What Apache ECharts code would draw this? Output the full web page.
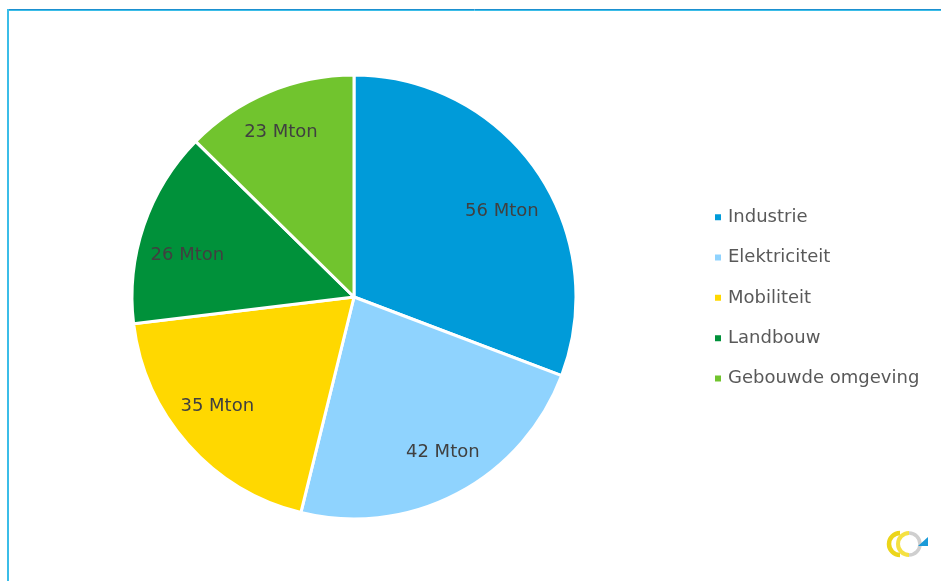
<!DOCTYPE html>
<html>
<head>
<meta charset="utf-8">
<script src="https://cdn.jsdelivr.net/npm/echarts@6/dist/echarts.min.js"></script>
<style>html,body{margin:0;padding:0;background:#fff}#c{width:941px;height:581px}</style>
</head>
<body>
<div id="c"></div>
<script>
var categories = ['Industrie', 'Elektriciteit', 'Mobiliteit', 'Landbouw', 'Gebouwde omgeving'];
var values = [56, 42, 35, 26, 23];
var unit = 'Mton';
var colors = ['#009bd9', '#8fd3fe', '#ffd800', '#00913a', '#71c42e'];

// small label nudges (style only) to match the reference label placement
var labelNudge = [[3, 14], [7, -1], [-5, -7], [0, 15], [-5, -2]];

var data = categories.map(function (c, i) { return { name: c, value: values[i] }; });
var labelData = categories.map(function (c, i) {
  return { name: c, value: values[i], label: { offset: labelNudge[i] } };
});
var chart = echarts.init(document.getElementById('c'), null, { renderer: 'canvas' });
var font = '"DejaVu Sans", Verdana, sans-serif';
chart.setOption({
  animation: false,
  color: colors,
  legend: {
    orient: 'vertical',
    left: 708,
    top: 202,
    itemWidth: 8,
    itemHeight: 8,
    itemGap: 19.8,
    icon: 'rect',
    data: categories,
    textStyle: { fontFamily: font, fontSize: 18, color: '#595959', lineHeight: 20.5, padding: [0, 0, 0, 1] }
  },
  graphic: [
    { type: 'line', shape: { x1: 8, y1: 9.5, x2: 941, y2: 9.5 }, style: { stroke: '#1b90d0', lineWidth: 1 }, silent: true },
    { type: 'line', shape: { x1: 8, y1: 10.5, x2: 941, y2: 10.5 }, style: { stroke: '#3bbde8', lineWidth: 1 }, silent: true },
    { type: 'line', shape: { x1: 8, y1: 9, x2: 8, y2: 581 }, style: { stroke: '#3bbde8', lineWidth: 2 }, silent: true },
    { type: 'arc', shape: { cx: 909, cy: 544, r: 11, startAngle: -Math.PI * 0.5, endAngle: Math.PI * 0.5 }, style: { fill: 'none', stroke: '#cfcfcf', lineWidth: 3.5 }, silent: true },
    { type: 'arc', shape: { cx: 900, cy: 544, r: 11, startAngle: Math.PI * 0.5, endAngle: Math.PI * 1.5 }, style: { fill: 'none', stroke: '#ecd51a', lineWidth: 4.5 }, silent: true },
    { type: 'arc', shape: { cx: 909, cy: 544, r: 11, startAngle: Math.PI * 0.5, endAngle: Math.PI * 1.5 }, style: { fill: 'none', stroke: '#f5e143', lineWidth: 4 }, silent: true },
    { type: 'polygon', shape: { points: [[918, 546], [928, 537], [928, 546]] }, style: { fill: '#1a9ad8' }, silent: true }
  ],
  series: [
    {
      type: 'pie',
      center: [354, 297],
      radius: [0, 222],
      startAngle: 90,
      clockwise: true,
      data: data,
      label: { show: false },
      labelLine: { show: false },
      itemStyle: { borderColor: '#ffffff', borderWidth: 3 },
      emphasis: { disabled: true }
    },
    {
      type: 'pie',
      center: [354, 297],
      radius: [124, 222],
      startAngle: 90,
      clockwise: true,
      silent: true,
      legendHoverLink: false,
      data: labelData,
      itemStyle: { color: 'rgba(0,0,0,0)' },
      label: {
        show: true,
        position: 'inside',
        formatter: function (p) { return p.value + ' ' + unit; },
        fontFamily: font,
        fontSize: 18,
        color: '#404040'
      },
      labelLine: { show: false },
      emphasis: { disabled: true }
    }
  ]
});
</script>
</body>
</html>
